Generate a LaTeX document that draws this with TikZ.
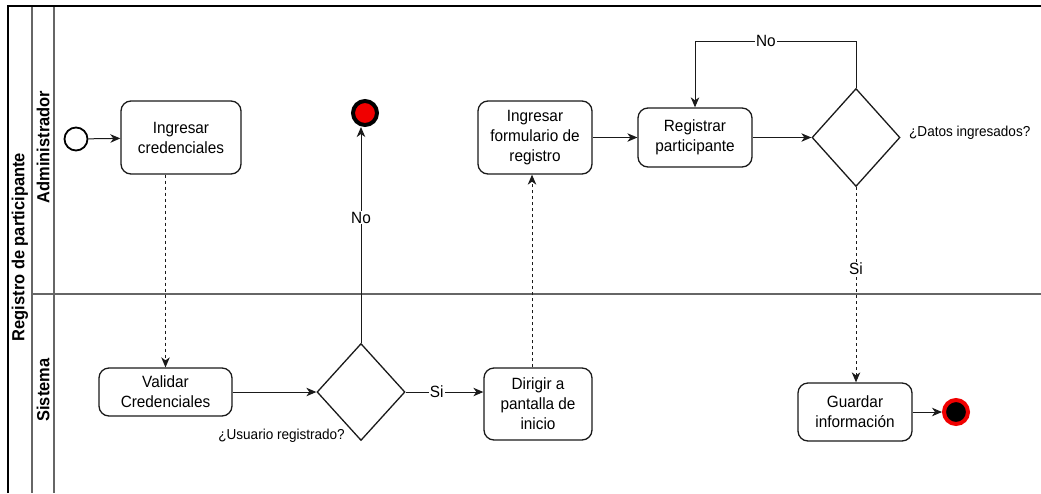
\documentclass[tikz,border=0pt]{standalone}
\usepackage{fontspec}
\setmainfont{Liberation Sans}[FakeStretch=0.94]
\usetikzlibrary{arrows.meta,shapes.geometric,calc}
\definecolor{lanegray}{HTML}{666666}
\definecolor{inkc}{HTML}{1A1A1A}
\definecolor{endred}{HTML}{F00000}
\begin{document}
\begin{tikzpicture}[x=1pt,y=-1pt,
  task/.style={draw=inkc,line width=1.3pt,rounded corners=10pt,fill=white,align=center,
    inner sep=2pt,font=\fontsize{16.3}{20}\selectfont},
  gate/.style={draw=inkc,line width=1.3pt,diamond,fill=white,inner sep=0pt},
  flow/.style={draw=inkc,line width=1pt,-{Stealth[length=10pt,width=8.5pt,inset=3pt]}},
  msg/.style={flow,dash pattern=on 3pt off 3pt},
  lbl/.style={fill=white,inner sep=1pt,font=\fontsize{16.3}{18}\selectfont},
  side/.style={font=\fontsize{14.4}{16}\selectfont,inner sep=0pt},
  lanetxt/.style={rotate=90,font=\bfseries\fontsize{17.5}{20}\selectfont,inner sep=0pt}
]
\useasboundingbox (0,0) rectangle (1041,493);

% pool and lanes
\draw[lanegray,line width=1.4pt] (32,6) -- (32,493);
\draw[lanegray,line width=1.4pt] (54,6) -- (54,493);
\draw[lanegray,line width=1.4pt] (32,294) -- (1041,294);
\draw[black,line width=1.8pt] (8,493) -- (8,6) -- (1041,6);
\node[lanetxt] (pool) at (20,247) {Registro de participante};
\node[lanetxt] (laneA) at (43,147) {Administrador};
\node[lanetxt] (laneS) at (43,390) {Sistema};

% events
\node[circle,draw=black,line width=1.8pt,fill=white,minimum size=23pt,inner sep=0pt] (start) at (76,139) {};
\node[circle,draw=black,line width=4pt,fill=endred,minimum size=24pt,inner sep=0pt] (end1) at (365,113) {};
\node[circle,draw=endred,line width=4pt,fill=black,minimum size=24pt,inner sep=0pt] (end2) at (956,412) {};

% tasks
\node[task,minimum width=120pt,minimum height=73pt] (ic) at (181,137.5) {Ingresar\\credenciales};
\node[task,minimum width=133pt,minimum height=48pt] (vc) at (165.5,392) {Validar\\Credenciales};
\node[task,minimum width=108pt,minimum height=72pt] (dp) at (538,404) {Dirigir a\\pantalla de\\inicio};
\node[task,minimum width=114pt,minimum height=73pt] (ifr) at (535,137.5) {Ingresar\\formulario de\\registro};
\node[task,minimum width=114pt,minimum height=59pt] (rp) at (695,137.5) {Registrar\\participante};
\node[task,minimum width=114pt,minimum height=58pt] (gi) at (855,412) {Guardar\\información};

% gateways
\node[gate,minimum width=88pt,minimum height=97pt] (d1) at (361,392) {};
\node[gate,minimum width=88pt,minimum height=98pt] (d2) at (856,137.5) {};
\node[side,anchor=east] (q1) at (345,436) {¿Usuario registrado?};
\node[side,anchor=west] (q2) at (909,133) {¿Datos ingresados?};

% flows
\coordinate (loop) at (765,41);
\draw[flow] (start) -- (ic);
\draw[msg] (vc.north |- ic.south) -- (vc.north);
\draw[flow] (vc.east) -- (vc.east -| d1.west);
\draw[flow] (d1.north) -- node[lbl,pos=0.58] {No} (end1.south -| d1.north);
\draw[flow] (d1.east) -- node[lbl,pos=0.4] {Si} (d1.east -| dp.west);
\draw[msg] ([xshift=-6pt]dp.north) -- ([xshift=-6pt]dp.north |- ifr.south);
\draw[flow] (ifr) -- (rp);
\draw[flow] (rp) -- (d2);
\draw[flow] (d2.north) -- (d2.north |- loop) -- node[lbl,pos=0.56] {No} (rp.north |- loop) -- (rp.north);
\draw[msg] (d2.south) -- node[lbl,pos=0.42] {Si} (gi.north -| d2.south);
\draw[flow] (gi) -- (end2);
\end{tikzpicture}
\end{document}
